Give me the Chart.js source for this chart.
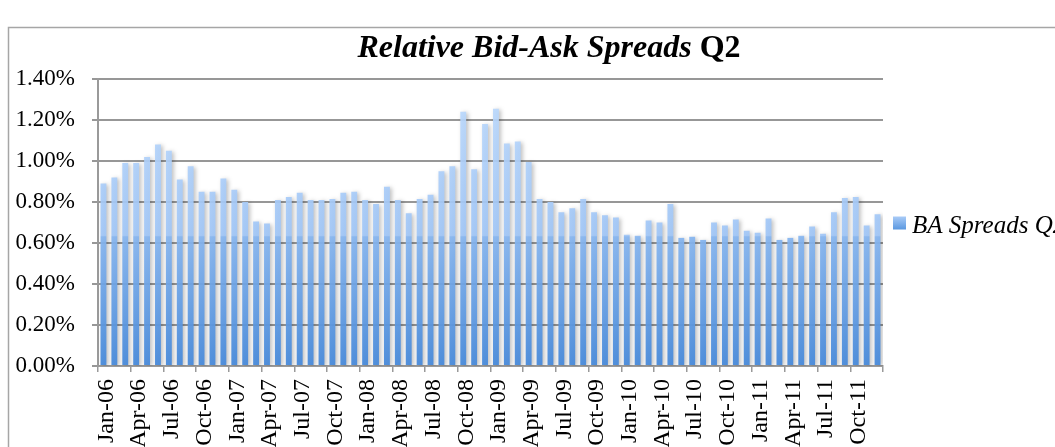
<!DOCTYPE html>
<html>
<head>
<meta charset="utf-8">
<script src="https://cdn.jsdelivr.net/npm/chart.js@4/dist/chart.umd.min.js"></script>
<style>
  html,body{margin:0;padding:0;background:#fff;overflow:hidden}
  #wrap{position:relative;width:1055px;height:447px}
</style>
</head>
<body>
<div id="wrap"><canvas id="chart"></canvas></div>
<script>
const months = [
  'Jan-06','Feb-06','Mar-06','Apr-06','May-06','Jun-06','Jul-06','Aug-06','Sep-06','Oct-06','Nov-06','Dec-06',
  'Jan-07','Feb-07','Mar-07','Apr-07','May-07','Jun-07','Jul-07','Aug-07','Sep-07','Oct-07','Nov-07','Dec-07',
  'Jan-08','Feb-08','Mar-08','Apr-08','May-08','Jun-08','Jul-08','Aug-08','Sep-08','Oct-08','Nov-08','Dec-08',
  'Jan-09','Feb-09','Mar-09','Apr-09','May-09','Jun-09','Jul-09','Aug-09','Sep-09','Oct-09','Nov-09','Dec-09',
  'Jan-10','Feb-10','Mar-10','Apr-10','May-10','Jun-10','Jul-10','Aug-10','Sep-10','Oct-10','Nov-10','Dec-10',
  'Jan-11','Feb-11','Mar-11','Apr-11','May-11','Jun-11','Jul-11','Aug-11','Sep-11','Oct-11','Nov-11','Dec-11'
]

// relative bid-ask spread, in percent
const spreads = [
  0.89, 0.92, 0.99, 0.99, 1.02, 1.08, 1.05, 0.91, 0.975, 0.85, 0.85, 0.915,
  0.86, 0.80, 0.705, 0.695, 0.81, 0.825, 0.845, 0.81, 0.81, 0.815, 0.845, 0.85,
  0.81, 0.79, 0.875, 0.81, 0.745, 0.815, 0.835, 0.95, 0.975, 1.24, 0.96, 1.18,
  1.255, 1.085, 1.095, 0.995, 0.815, 0.80, 0.75, 0.77, 0.815, 0.75, 0.735, 0.725,
  0.64, 0.635, 0.71, 0.70, 0.79, 0.625, 0.63, 0.615, 0.70, 0.685, 0.715, 0.66,
  0.65, 0.72, 0.615, 0.625, 0.635, 0.68, 0.645, 0.75, 0.82, 0.825, 0.685, 0.74
]

const yTicks = [0, 0.2, 0.4, 0.6, 0.8, 1.0, 1.2, 1.4]
const seriesName = 'BA Spreads Q2'
const titleMain = 'Relative Bid-Ask Spreads '
const titleTail = 'Q2'

const serif = '"Liberation Serif", "Times New Roman", serif'

function barFill(c){
  const a = c.chart.chartArea
  if(!a) return '#a8cbf8'
  const g = c.chart.ctx.createLinearGradient(0, a.top, 0, a.bottom)
  g.addColorStop(0, 'rgba(192,220,253,0.92)')
  g.addColorStop(0.545, 'rgba(160,198,247,0.92)')
  g.addColorStop(0.55, 'rgba(134,181,239,0.93)')
  g.addColorStop(1, 'rgba(72,138,218,0.95)')
  return g
}

// frame + white background
const framePlugin = {
  id: 'frame',
  beforeDraw(chart){
    const ctx = chart.ctx
    ctx.save()
    ctx.fillStyle = '#fff'
    ctx.fillRect(0, 0, chart.width, chart.height)
    ctx.strokeStyle = '#a6a6a6'
    ctx.lineWidth = 1.5
    ctx.beginPath()
    ctx.moveTo(8.5, chart.height)
    ctx.lineTo(8.5, 27.5)
    ctx.lineTo(chart.width, 27.5)
    ctx.stroke()
    ctx.restore()
  }
}

const shadowPlugin = {
  id: 'barShadow',
  beforeDatasetsDraw(chart){
    const ctx = chart.ctx
    ctx.save()
    ctx.shadowColor = 'rgba(0,0,0,0.28)'
    ctx.shadowBlur = 4
    ctx.shadowOffsetX = 2
    ctx.shadowOffsetY = 1
  },
  afterDatasetsDraw(chart){
    chart.ctx.restore()
  }
}

// title with mixed italic / upright, and the right-hand legend
const textPlugin = {
  id: 'texts',
  afterDraw(chart){
    const ctx = chart.ctx
    ctx.save()
    ctx.fillStyle = '#000'
    ctx.textBaseline = 'alphabetic'
    const f1 = 'italic bold 32px ' + serif
    const f2 = 'bold 32px ' + serif
    ctx.font = f1
    const w1 = ctx.measureText(titleMain).width
    ctx.font = f2
    const w2 = ctx.measureText(titleTail).width
    const cx = 549
    let x = cx - (w1 + w2) / 2
    ctx.font = f1
    ctx.fillText(titleMain, x, 57)
    ctx.font = f2
    ctx.fillText(titleTail, x + w1, 57)

    // legend
    const a = chart.chartArea
    const ly = (a.top + a.bottom) / 2
    const bx = a.right + 10
    const g = ctx.createLinearGradient(0, ly - 6, 0, ly + 7)
    g.addColorStop(0, '#a9cbf7')
    g.addColorStop(1, '#5a98e0')
    ctx.fillStyle = g
    ctx.fillRect(bx, ly - 6, 13, 13)
    ctx.fillStyle = '#000'
    ctx.font = 'italic 25px ' + serif
    ctx.fillText(seriesName, bx + 19, ly + 10)
    ctx.restore()
  }
}

const chart = new Chart(document.getElementById('chart'), {
  type: 'bar',
  data: {
    labels: months,
    datasets: [{
      label: seriesName,
      data: spreads,
      backgroundColor: barFill,
      borderWidth: 0,
      barPercentage: 0.54,
      categoryPercentage: 1
    }]
  },
  options: {
    responsive: true,
    maintainAspectRatio: false,
    animation: false,
    layout: { padding: { left: 8, top: 79, right: 172, bottom: 0 } },
    plugins: {
      legend: { display: false },
      tooltip: { enabled: false },
      title: { display: false }
    },
    scales: {
      x: {
        offset: true,
        grid: {
          offset: true,
          drawOnChartArea: false,
          drawTicks: true,
          tickLength: 6,
          lineWidth: 1.5,
          color: c => (c.index === undefined || c.index % 3 === 0) ? '#9a9a9a' : 'rgba(0,0,0,0)'
        },
        border: { color: '#9a9a9a', width: 2 },
        ticks: {
          autoSkip: false,
          maxRotation: 90,
          minRotation: 90,
          padding: 7,
          labelOffset: 3,
          color: '#000',
          font: { family: serif, size: 24 },
          callback: (v, i) => i % 3 === 0 ? months[i] : ''
        },
        afterFit: s => { s.height = 81 }
      },
      y: {
        min: 0,
        max: 1.4,
        afterBuildTicks: s => { s.ticks = yTicks.map(v => ({ value: v })) },
        grid: { color: '#979797', lineWidth: 2, tickLength: 6 },
        border: { color: '#9a9a9a', width: 2 },
        ticks: {
          padding: 17,
          color: '#000',
          font: { family: serif, size: 23 },
          callback: v => v.toFixed(2) + '%'
        },
        afterFit: s => { s.width = 90 }
      }
    }
  },
  plugins: [framePlugin, shadowPlugin, textPlugin]
})
</script>
</body>
</html>
